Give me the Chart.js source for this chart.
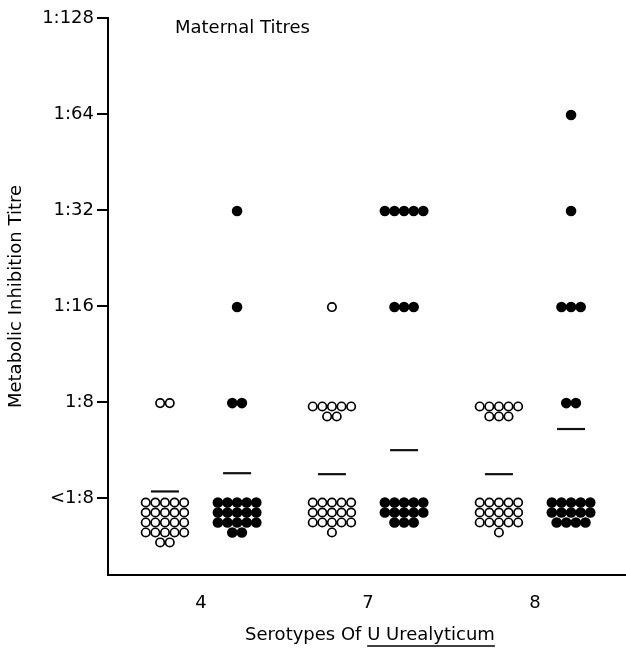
<!DOCTYPE html>
<html>
<head>
<meta charset="utf-8">
<script src="https://cdn.jsdelivr.net/npm/chart.js@4.4.0/dist/chart.umd.min.js"></script>
<style>
  body { margin: 0; background: #fff; }
  canvas { display: block; }
</style>
</head>
<body>
<canvas id="chart" width="626" height="648"></canvas>
<script>
// serotypes of U. urealyticum along the x axis
const serotypes = ['4', '7', '8'];
// titre levels, index 0 is <1:8
const titreLabels = ['<1:8', '1:8', '1:16', '1:32', '1:64', '1:128'];

// number of mothers at each titre level (open circles / filled circles)
const openCounts = [
    [22, 2, 0, 0, 0, 0],
    [16, 7, 1, 0, 0, 0],
    [16, 8, 0, 0, 0, 0]
];
const filledCounts = [
    [17, 2, 1, 1, 0, 0],
    [13, 0, 3, 5, 0, 0],
    [14, 2, 3, 1, 1, 0]
];

// mean titre bars (in titre level units)
const openMeans = [0.07, 0.25, 0.25];
const filledMeans = [0.26, 0.50, 0.72];

const FONT = "'DejaVu Sans', 'Liberation Sans', sans-serif";
const SIDE = 0.216;   // offset of open / filled column from the serotype
const COL = 0.0575;   // spacing of dots in a row
const ROW = 0.104;    // spacing of rows
const PER_ROW = 5;

// lay the counts out as a dot plot, rows of 5 centred on the column
function buildDots(counts, side) {
    const pts = [];
    counts.forEach((levels, g) => {
        levels.forEach((n, level) => {
            const rows = Math.ceil(n / PER_ROW);
            const drop = rows > 1 ? 0.045 : 0.01;
            for (let r = 0; r < rows; r++) {
                const inRow = Math.min(PER_ROW, n - r * PER_ROW);
                for (let c = 0; c < inRow; c++) {
                    pts.push({
                        x: g + 1 + side * SIDE + (c - (inRow - 1) / 2) * COL,
                        y: level - drop - r * ROW
                    });
                }
            }
        });
    });
    return pts;
}

function buildMeans(means, side) {
    return means.map((m, g) => ({ x: g + 1 + side * SIDE, y: m }));
}

// text that sits outside the normal chart.js boxes
const textPlugin = {
    id: 'extraText',
    afterDraw(chart) {
        const ctx = chart.ctx;
        ctx.save();
        ctx.fillStyle = '#000';
        ctx.textBaseline = 'alphabetic';
        ctx.font = '18px ' + FONT;
        ctx.textAlign = 'left';
        ctx.fillText('Maternal Titres', 175, 33);

        // x axis title with the organism name underlined
        const a = 'Serotypes Of ';
        const b = 'U Urealyticum';
        const wa = ctx.measureText(a).width;
        const wb = ctx.measureText(b).width;
        const x0 = 370 - (wa + wb) / 2;
        const base = 640;
        ctx.fillText(a, x0, base);
        ctx.fillText(b, x0 + wa, base);
        ctx.strokeStyle = '#000';
        ctx.lineWidth = 1.5;
        ctx.beginPath();
        ctx.moveTo(x0 + wa, base + 6);
        ctx.lineTo(x0 + wa + wb, base + 6);
        ctx.stroke();
        ctx.restore();
    }
};

const ctx = document.getElementById('chart').getContext('2d');
new Chart(ctx, {
    type: 'scatter',
    data: {
        datasets: [
            {
                label: 'open',
                data: buildDots(openCounts, -1),
                pointRadius: 4.2,
                pointBorderWidth: 1.7,
                pointBorderColor: '#000',
                pointBackgroundColor: '#fff'
            },
            {
                label: 'filled',
                data: buildDots(filledCounts, 1),
                pointRadius: 5.3,
                pointBorderWidth: 0,
                pointBackgroundColor: '#000'
            },
            {
                label: 'open mean',
                data: buildMeans(openMeans, -1),
                pointStyle: 'line',
                pointRadius: 14,
                pointBorderWidth: 2.2,
                pointBorderColor: '#111'
            },
            {
                label: 'filled mean',
                data: buildMeans(filledMeans, 1),
                pointStyle: 'line',
                pointRadius: 14,
                pointBorderWidth: 2.2,
                pointBorderColor: '#111'
            }
        ]
    },
    options: {
        responsive: false,
        animation: false,
        events: [],
        layout: { autoPadding: false, padding: { top: 18, right: 0, left: 0, bottom: 0 } },
        plugins: {
            legend: { display: false },
            tooltip: { enabled: false }
        },
        scales: {
            x: {
                type: 'linear',
                min: 0.443,
                max: 3.545,
                afterFit: (s) => { s.height = 73; },
                afterBuildTicks: (s) => { s.ticks = serotypes.map((_, i) => ({ value: i + 1 })); },
                grid: { display: false },
                border: { display: true, color: '#000', width: 2 },
                ticks: {
                    padding: 10,
                    color: '#000',
                    font: { family: FONT, size: 18 },
                    callback: (v) => serotypes[v - 1]
                }
            },
            y: {
                min: -0.8,
                max: 5,
                afterFit: (s) => { s.width = 108; },
                afterBuildTicks: (s) => { s.ticks = titreLabels.map((_, i) => ({ value: i })); },
                grid: {
                    drawOnChartArea: false,
                    drawTicks: true,
                    tickLength: 11,
                    color: '#000',
                    lineWidth: 2
                },
                border: { display: true, color: '#000', width: 2 },
                ticks: {
                    padding: 3,
                    color: '#000',
                    font: { family: FONT, size: 18 },
                    callback: (v) => titreLabels[v]
                },
                title: {
                    display: true,
                    text: 'Metabolic Inhibition Titre',
                    color: '#000',
                    font: { family: FONT, size: 18 },
                    padding: { top: 6, bottom: 0 }
                }
            }
        }
    },
    plugins: [textPlugin]
});
</script>
</body>
</html>
